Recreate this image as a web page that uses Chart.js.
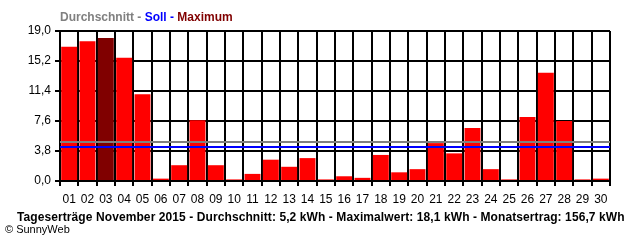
<!DOCTYPE html>
<html>
<head>
<meta charset="utf-8">
<script src="https://cdn.jsdelivr.net/npm/chart.js@4/dist/chart.umd.min.js"></script>
<style>
  html,body{margin:0;padding:0;background:#fff;}
  #wrap{position:relative;width:640px;height:240px;overflow:hidden;}
  #c{position:absolute;left:0;top:0;}
  .t{position:absolute;white-space:nowrap;font-family:"Liberation Sans",Arial,sans-serif;}
  #title{left:60px;top:10px;font-size:12px;font-weight:bold;color:#808080;}
  #foot{left:17px;top:210px;font-size:12px;font-weight:bold;color:#000;letter-spacing:0.09px;}
  #copy{left:5px;top:223px;font-size:11px;color:#000;}
</style>
</head>
<body>
<div id="wrap">
  <canvas id="c" width="640" height="240"></canvas>
  <div class="t" id="title">Durchschnitt - <span style="color:#0000ff">Soll - </span><span style="color:#800000">Maximum</span></div>
  <div class="t" id="foot">Tageserträge November 2015 - Durchschnitt: 5,2 kWh - Maximalwert: 18,1 kWh - Monatsertrag: 156,7 kWh</div>
  <div class="t" id="copy">© SunnyWeb</div>
</div>
<script>
const days = ['01','02','03','04','05','06','07','08','09','10','11','12','13','14','15','16','17','18','19','20','21','22','23','24','25','26','27','28','29','30'];
const yields = [17.0,17.7,18.1,15.6,11.0,0.3,2.0,7.7,2.0,0.2,0.9,2.7,1.8,2.9,0.2,0.6,0.4,3.3,1.1,1.5,4.8,3.5,6.7,1.5,0.2,8.1,13.7,7.6,0.2,0.3];
const yTickValues = [0,3.8,7.6,11.4,15.2,19.0];
const averageValue = 5.0;
const sollValue = 4.3;

const maxVal = Math.max(...yields);
const barColors = yields.map(v => v === maxVal ? '#800000' : '#ff0000');

const refLines = {
  id: 'refLines',
  afterDatasetsDraw(chart) {
    const {ctx, chartArea, scales} = chart;
    const draw = (val, color) => {
      const y = Math.round(scales.y.getPixelForValue(val));
      ctx.save();
      ctx.strokeStyle = color;
      ctx.lineWidth = 2;
      ctx.beginPath();
      ctx.moveTo(chartArea.left, y);
      ctx.lineTo(chartArea.right, y);
      ctx.stroke();
      ctx.restore();
    };
    draw(averageValue, '#808080');
    draw(sollValue, '#0000ff');
  }
};

new Chart(document.getElementById('c'), {
  type: 'bar',
  data: {
    labels: days,
    datasets: [{
      data: yields,
      backgroundColor: barColors,
      borderWidth: 0,
      barPercentage: 0.87,
      categoryPercentage: 1.0
    }]
  },
  options: {
    responsive: false,
    animation: false,
    devicePixelRatio: 1,
    layout: {padding: {left: 0, right: 30, top: 31, bottom: 0}},
    plugins: {legend: {display: false}, tooltip: {enabled: false}},
    scales: {
      x: {
        grid: {color: '#000', lineWidth: 2, tickLength: 5, offset: true, drawOnChartArea: true},
        border: {color: '#000', width: 2},
        ticks: {color: '#000', font: {family: '"Liberation Sans", Arial, sans-serif', size: 12}, padding: 6, maxRotation: 0, autoSkip: false},
        afterFit(s) { s.height = 59; }
      },
      y: {
        min: 0, max: 19,
        afterBuildTicks(s) { s.ticks = yTickValues.map(v => ({value: v})); },
        grid: {color: '#000', lineWidth: 2, tickLength: 5},
        border: {color: '#000', width: 2},
        ticks: {color: '#000', font: {family: '"Liberation Sans", Arial, sans-serif', size: 12}, padding: 4,
          callback: v => Number(v).toFixed(1).replace('.', ',')},
        afterFit(s) { s.width = 60; }
      }
    }
  },
  plugins: [refLines]
});
</script>
</body>
</html>
